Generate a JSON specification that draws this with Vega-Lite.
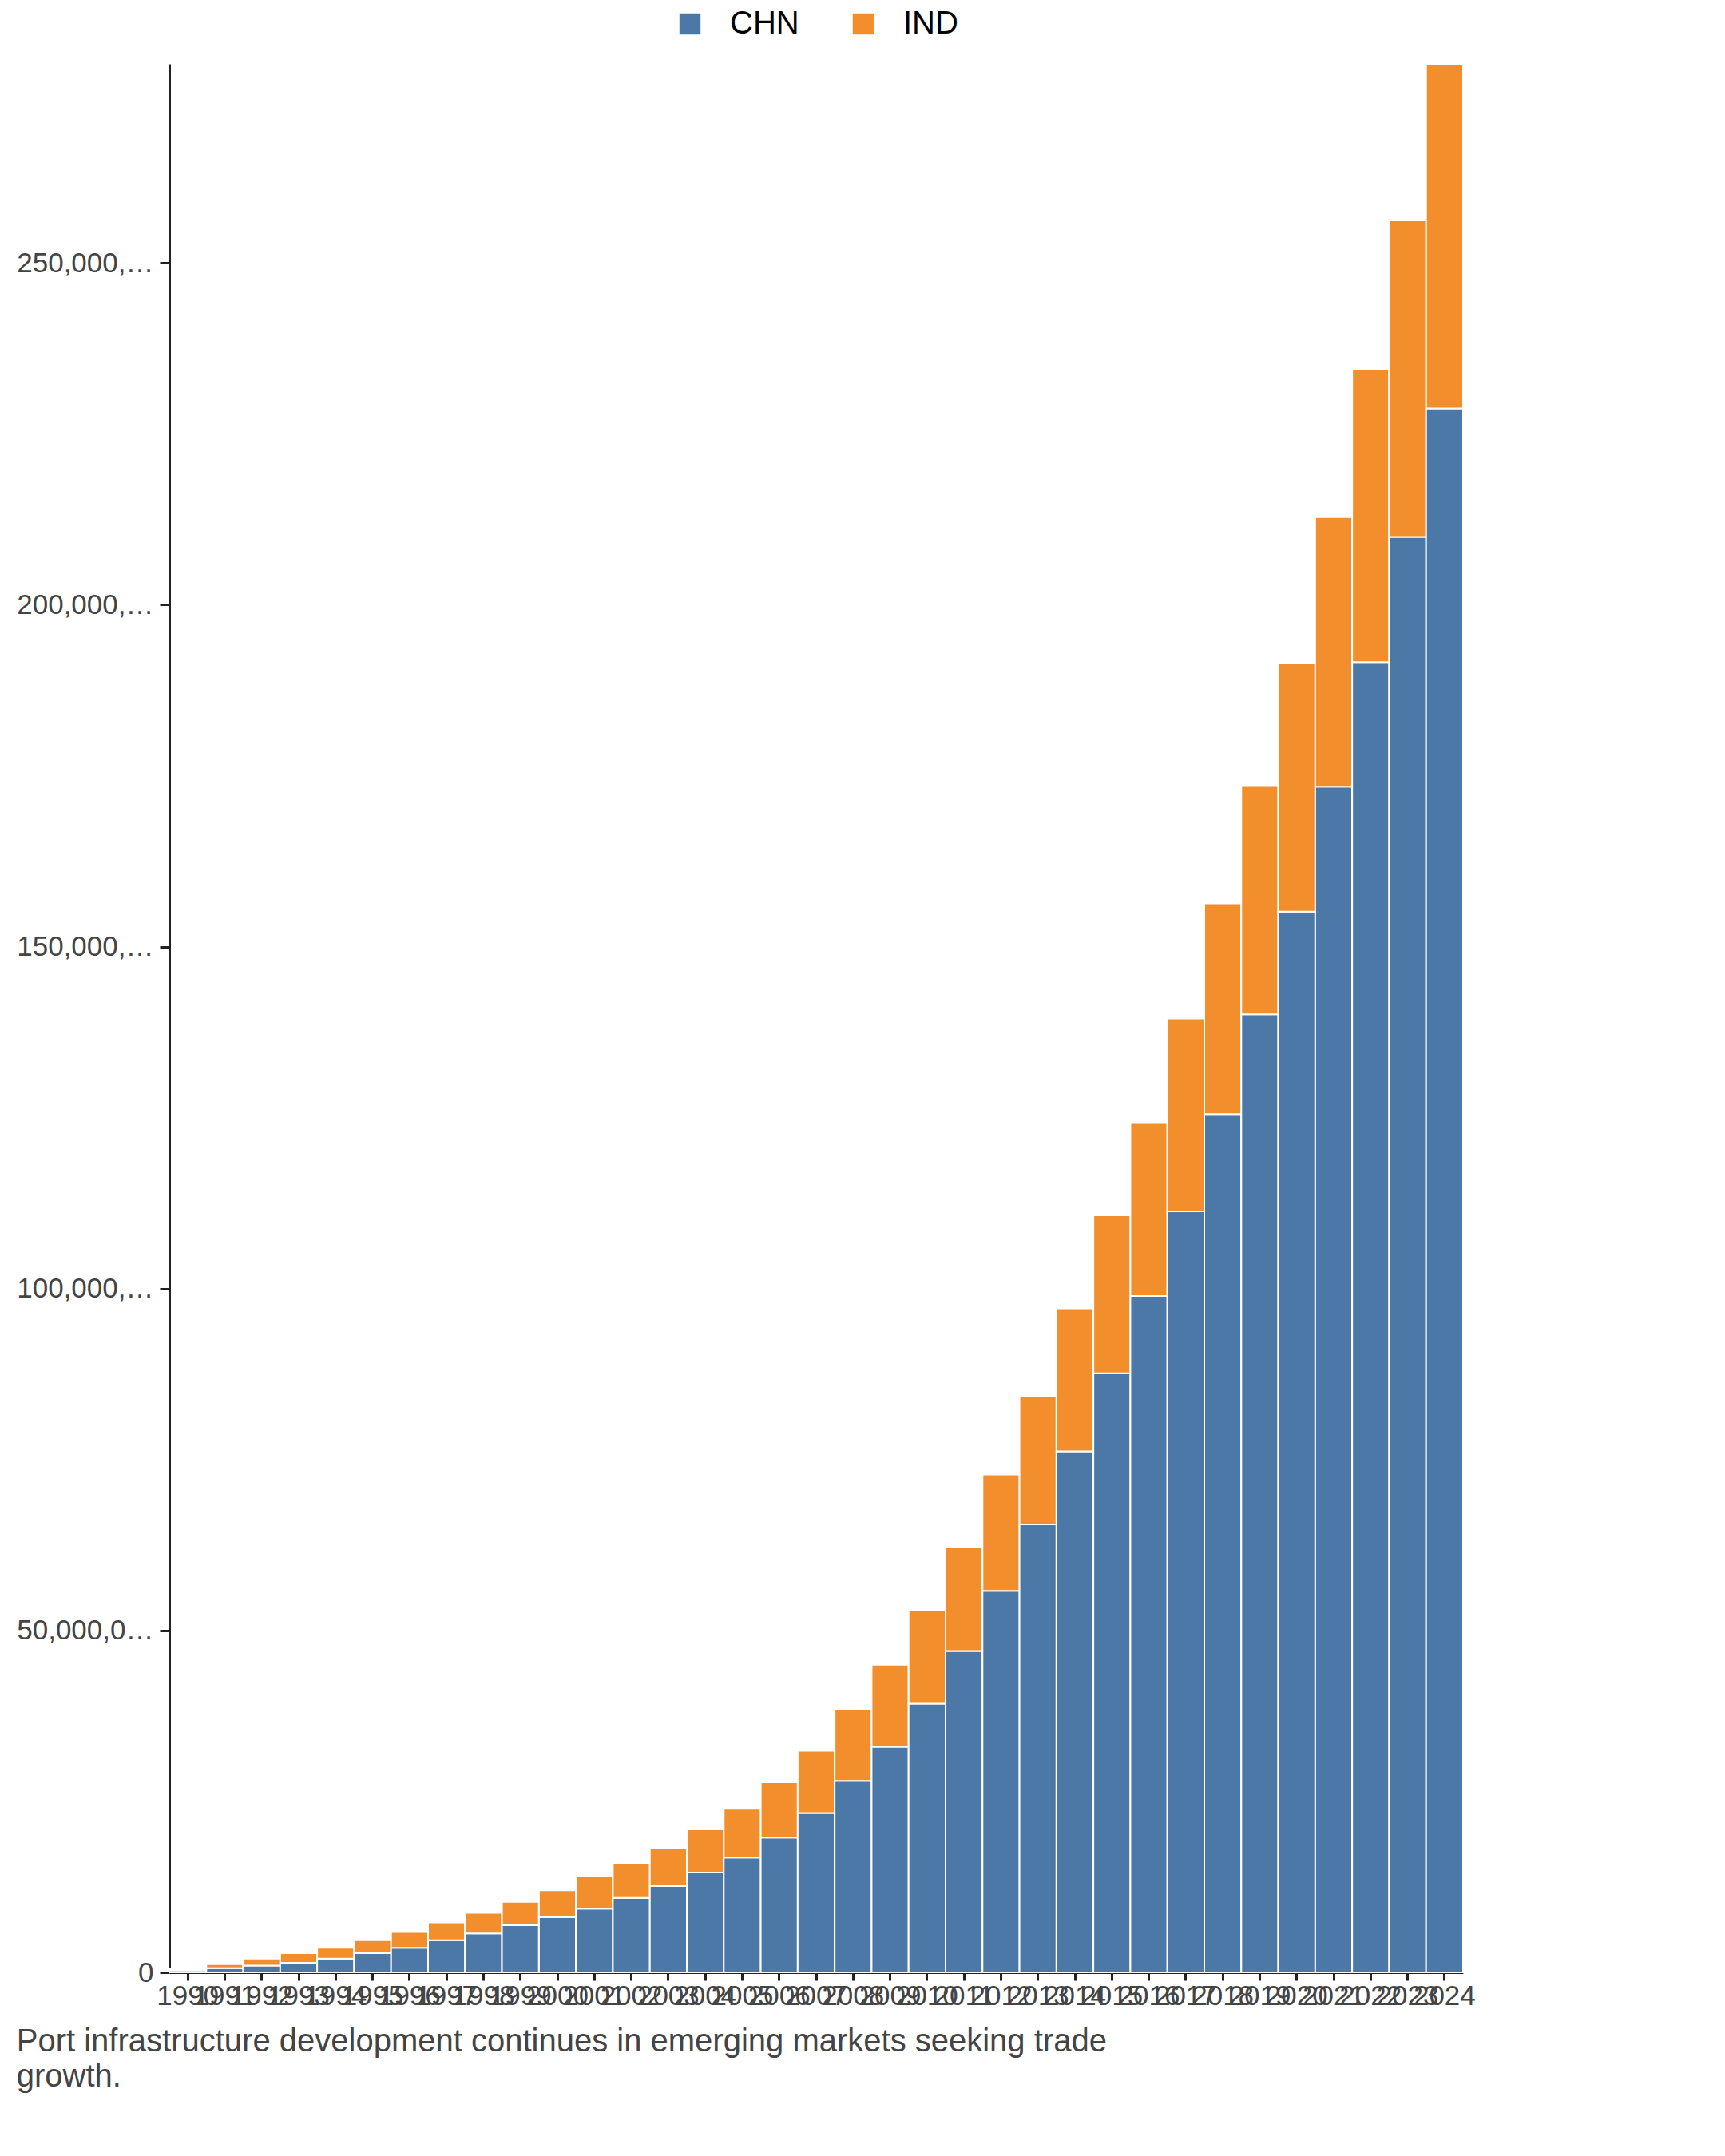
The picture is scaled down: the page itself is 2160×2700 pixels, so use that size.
{
"$schema":"https://vega.github.io/schema/vega-lite/v6.json",
"width":1620,"height":2390,
"padding":{"left":20,"top":10,"right":20,"bottom":10},
"background":"white",
"title":{"text":["Port infrastructure development continues in emerging markets seeking trade","growth."],"orient":"bottom","anchor":"start","fontSize":40,"font":"Arial","fontWeight":"normal","color":"#444","offset":20,"lineHeight":44},
"data":{"values":[
{"y":"1990","c":"CHN","v":0.3},{"y":"1990","c":"IND","v":0.2},
{"y":"1991","c":"CHN","v":0.6},{"y":"1991","c":"IND","v":0.6},
{"y":"1992","c":"CHN","v":1.0},{"y":"1992","c":"IND","v":1.0},
{"y":"1993","c":"CHN","v":1.4},{"y":"1993","c":"IND","v":1.4},
{"y":"1994","c":"CHN","v":2.0},{"y":"1994","c":"IND","v":1.6},
{"y":"1995","c":"CHN","v":2.8},{"y":"1995","c":"IND","v":1.9},
{"y":"1996","c":"CHN","v":3.6},{"y":"1996","c":"IND","v":2.3},
{"y":"1997","c":"CHN","v":4.7},{"y":"1997","c":"IND","v":2.6},
{"y":"1998","c":"CHN","v":5.7},{"y":"1998","c":"IND","v":3.0},
{"y":"1999","c":"CHN","v":6.9},{"y":"1999","c":"IND","v":3.4},
{"y":"2000","c":"CHN","v":8.1},{"y":"2000","c":"IND","v":3.9},
{"y":"2001","c":"CHN","v":9.3},{"y":"2001","c":"IND","v":4.7},
{"y":"2002","c":"CHN","v":10.9},{"y":"2002","c":"IND","v":5.1},
{"y":"2003","c":"CHN","v":12.6},{"y":"2003","c":"IND","v":5.6},
{"y":"2004","c":"CHN","v":14.6},{"y":"2004","c":"IND","v":6.3},
{"y":"2005","c":"CHN","v":16.8},{"y":"2005","c":"IND","v":7.1},
{"y":"2006","c":"CHN","v":19.7},{"y":"2006","c":"IND","v":8.1},
{"y":"2007","c":"CHN","v":23.3},{"y":"2007","c":"IND","v":9.1},
{"y":"2008","c":"CHN","v":28.0},{"y":"2008","c":"IND","v":10.5},
{"y":"2009","c":"CHN","v":33.0},{"y":"2009","c":"IND","v":12.0},
{"y":"2010","c":"CHN","v":39.3},{"y":"2010","c":"IND","v":13.6},
{"y":"2011","c":"CHN","v":47.0},{"y":"2011","c":"IND","v":15.2},
{"y":"2012","c":"CHN","v":55.8},{"y":"2012","c":"IND","v":17.0},
{"y":"2013","c":"CHN","v":65.5},{"y":"2013","c":"IND","v":18.8},
{"y":"2014","c":"CHN","v":76.2},{"y":"2014","c":"IND","v":20.9},
{"y":"2015","c":"CHN","v":87.6},{"y":"2015","c":"IND","v":23.1},
{"y":"2016","c":"CHN","v":98.9},{"y":"2016","c":"IND","v":25.4},
{"y":"2017","c":"CHN","v":111.3},{"y":"2017","c":"IND","v":28.2},
{"y":"2018","c":"CHN","v":125.5},{"y":"2018","c":"IND","v":30.8},
{"y":"2019","c":"CHN","v":140.1},{"y":"2019","c":"IND","v":33.5},
{"y":"2020","c":"CHN","v":155.1},{"y":"2020","c":"IND","v":36.3},
{"y":"2021","c":"CHN","v":173.4},{"y":"2021","c":"IND","v":39.4},
{"y":"2022","c":"CHN","v":191.6},{"y":"2022","c":"IND","v":42.9},
{"y":"2023","c":"CHN","v":209.9},{"y":"2023","c":"IND","v":46.3},
{"y":"2024","c":"CHN","v":228.7},{"y":"2024","c":"IND","v":50.4}
]},
"transform":[{"calculate":"datum.v*1e12","as":"val"}],
"mark":{"type":"bar","stroke":"white","strokeWidth":2},
"encoding":{
"x":{"field":"y","type":"ordinal","title":null,"scale":{"paddingInner":0,"paddingOuter":0},
 "axis":{"labelAngle":0,"labelOverlap":false,"labelFontSize":35,"labelFont":"Arial","labelColor":"#444","tickSize":10,"tickWidth":3,"domainWidth":3,"domainColor":"#222","tickColor":"#222"}},
"y":{"field":"val","type":"quantitative","stack":"zero","title":null,"scale":{"domain":[0,279.1e12],"nice":false},
 "axis":{"format":",.0f","grid":false,"labelFontSize":35,"labelFont":"Arial","labelColor":"#444","tickSize":12,"tickWidth":3,"domainWidth":3,"domainColor":"#222","tickColor":"#222","labelPadding":8,"values":[0,50e12,100e12,150e12,200e12,250e12]}},
"color":{"field":"c","type":"nominal","scale":{"domain":["CHN","IND"],"range":["#4c78a8","#f28e2b"]},
 "legend":{"orient":"top","title":null,"direction":"horizontal","labelFontSize":40,"labelFont":"Arial","symbolType":"square","symbolSize":700,"symbolStrokeWidth":0,"columnPadding":60,"labelOffset":30,"offset":30}},
"order":{"field":"c","sort":"ascending"}
},
"config":{"view":{"stroke":null},"legend":{"layout":{"top":{"anchor":"middle"}}}}
}
